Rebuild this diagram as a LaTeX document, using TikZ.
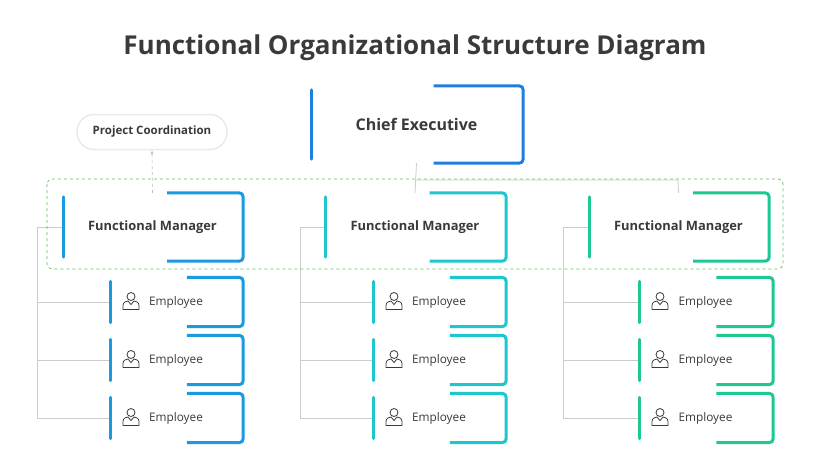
\documentclass[tikz,border=0pt]{standalone}
\usepackage{fontspec}
\setmainfont{Open Sans}
\usetikzlibrary{calc,arrows.meta}
\definecolor{cA}{HTML}{1A9BE0}
\definecolor{cC}{HTML}{1E7FE0}
\definecolor{cB}{HTML}{1EC6D0}
\definecolor{cG}{HTML}{1EC894}
\definecolor{txt}{HTML}{3A3A3A}
\tikzset{
  box/.style={draw=none,fill=white,inner sep=0pt,text=txt},
  conn/.style={draw=black!20,line width=0.8pt},
}
\newcommand\obox[7]{% name, center, w, h, color, font, text
  \node[box,minimum width=#3,minimum height=#4,font=#6] (#1) at (#2) {#7};
  \begin{pgfonlayer}{background}
  \draw[#5!45,line width=0.9pt,rounded corners=3] ($(#1.north west)+(-4,-3)$) rectangle ($(#1.south east)+(-3,3)$);
  \draw[black!8,fill=white,line width=0.8pt,rounded corners=3] (#1.north west) rectangle (#1.south east);
  \end{pgfonlayer}
  \draw[#5,line width=3pt,line cap=round] ($(#1.north west)+(2,4)$) -- ($(#1.south west)+(2,-4)$);
  \draw[#5,line width=3pt,rounded corners=4] ($(#1.north west)!0.58!(#1.north east)$) -- (#1.north east) -- (#1.south east) -- ($(#1.south west)!0.58!(#1.south east)$);
}
\newcommand\person[2]{% position, name
  \begin{scope}[shift={(#1)},txt,line width=0.8pt]
    \draw (0,-4.5) circle (4);
    \draw (-8,8.5) -- (-8,4.5) .. controls (-8,1) and (-4.5,0) .. (-3,0) -- (0,3.5) -- (3,0) .. controls (4.5,0) and (8,1) .. (8,4.5) -- (8,8.5) -- cycle;
    \coordinate (#2) at (0,0);
  \end{scope}
}
\pgfdeclarelayer{background}
\pgfsetlayers{background,main}
\begin{document}
\begin{tikzpicture}[x=1pt,y=-1pt]
\useasboundingbox (0,0) rectangle (830,466);
\fill[white] (0,0) rectangle (830,466);
\node[text=txt,font=\bfseries\fontsize{26}{30}\selectfont] (title) at (415,48) {Functional Organizational Structure Diagram};
\coordinate (j1) at (415,180);
\coordinate (j3) at (678,180);
\obox{ceo}{416.5,124.5}{213}{77}{cC}{\bfseries\fontsize{16}{19}\selectfont}{Chief Executive}
\node[draw=black!8,line width=1.5pt,fill=white,rounded corners=17,minimum width=150,minimum height=35,text=txt,font=\bfseries\fontsize{11.5}{14}\selectfont] (pc) at (152,132) {Project Coordination};
\obox{fm1}{152.5,227}{181}{68}{cA}{\bfseries\fontsize{12.9}{15}\selectfont}{Functional Manager}
\obox{fm2}{415,227}{182}{68}{cB}{\bfseries\fontsize{12.9}{15}\selectfont}{Functional Manager}
\obox{fm3}{678.5,227}{181}{68}{cG}{\bfseries\fontsize{12.9}{15}\selectfont}{Functional Manager}
\foreach \g/\xl/\xr/\c/\tx in {1/109/243/cA/37,2/372/506/cB/300,3/638/773/cG/563}{
  \foreach \k/\yy in {1/302,2/360,3/418}{
    \obox{e\g\k}{{(\xl+\xr)/2},\yy}{\xr-\xl}{49}{\c}{\color{txt!85}\fontsize{11.8}{14}\selectfont}{Employee}
    \person{{\xl+22},{\yy-1}}{p\g\k}
    \draw[conn] (e\g\k.west) -- (\tx,\yy);
  }
  \draw[conn] (fm\g.west) -- (\tx,227) -- (\tx,418);
}
\draw[conn] (ceo.south) -- (fm2.north);
\draw[conn] (j1) -- (j3) -- (fm3.north);
\draw[black!25,dashed,-{Latex[length=4pt]},line width=0.6pt] (fm1.north) -- (pc.south);
\draw[green!55!black!60,dashed,line width=0.7pt,rounded corners=5] (47,179) rectangle (783,269);
\end{tikzpicture}
\end{document}
